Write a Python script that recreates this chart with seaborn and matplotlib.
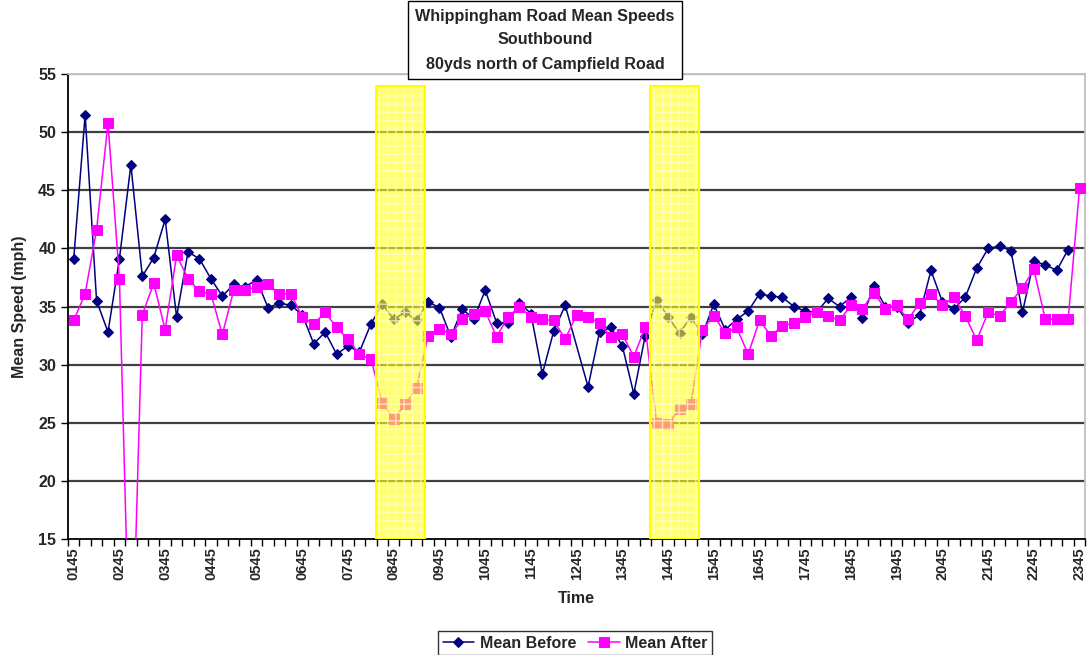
import numpy as np
import pandas as pd
import matplotlib
matplotlib.use("Agg")
import matplotlib.pyplot as plt
from matplotlib import font_manager
from matplotlib.ticker import FixedLocator
import seaborn as sns

# 15 minute slots from 01:45 to 23:45
times = pd.date_range("2000-01-01 01:45", "2000-01-01 23:45", freq="15min").strftime("%H%M").tolist()

mean_before = [
    39.1, 51.5, 35.5, 32.8, 39.1, 47.2, 37.6, 39.2, 42.5, 34.1,
    39.7, 39.1, 37.4, 35.9, 36.9, 36.7, 37.3, 34.9, 35.3, 35.1,
    34.3, 31.8, 32.8, 30.9, 31.6, 31.1, 33.5, 35.2, 33.9, 34.5,
    33.8, 35.4, 34.9, 32.4, 34.8, 33.9, 36.4, 33.6, 33.6, 35.3,
    34.4, 29.2, 32.9, 35.1, np.nan, 28.1, 32.8, 33.2, 31.6, 27.5,
    32.5, 35.6, 34.1, 32.7, 34.1, 32.6, 35.2, 33.0, 33.9, 34.6,
    36.1, 35.9, 35.8, 35.0, 34.6, 34.5, 35.7, 35.0, 35.8, 34.0,
    36.8, 35.0, 35.0, 33.6, 34.3, 38.1, 35.4, 34.8, 35.8, 38.3,
    40.0, 40.2, 39.8, 34.5, 38.9, 38.6, 38.1, 39.9, np.nan,
]
mean_after = [
    33.8, 36.1, 41.6, 50.8, 37.4, 0.0, 34.3, 37.0, 33.0, 39.4,
    37.4, 36.3, 36.1, 32.6, 36.4, 36.4, 36.7, 36.9, 36.1, 36.1,
    34.1, 33.5, 34.5, 33.2, 32.2, 30.9, 30.5, 26.7, 25.3, 26.6,
    28.0, 32.5, 33.1, 32.6, 33.9, 34.4, 34.6, 32.4, 34.1, 35.0,
    34.1, 33.9, 33.8, 32.2, 34.3, 34.1, 33.6, 32.4, 32.6, 30.7,
    33.2, 25.0, 24.9, 26.2, 26.6, 33.0, 34.2, 32.7, 33.2, 30.9,
    33.8, 32.5, 33.3, 33.6, 34.1, 34.5, 34.2, 33.8, 35.1, 34.8,
    36.2, 34.8, 35.1, 33.9, 35.3, 36.1, 35.1, 35.8, 34.2, 32.1,
    34.5, 34.2, 35.4, 36.6, 38.2, 33.9, 33.9, 33.9, 45.2,
]
# highlighted periods (first and last slot inside each box)
highlight_periods = [("0830", "0915"), ("1430", "1515")]

df = pd.DataFrame({"slot": np.arange(len(times)), "time": times,
                   "before": mean_before, "after": mean_after})

sns.set_style("white")
plt.rcParams["font.family"] = ["Liberation Sans", "DejaVu Sans"]

installed = {f.name for f in font_manager.fontManager.ttflist}
if "Liberation Sans Narrow" in installed:
    title_font, title_size = "Liberation Sans Narrow", 13.5
else:
    title_font, title_size = "Liberation Sans", 11.6

fig = plt.figure(figsize=(10.88, 6.55), dpi=100)
ax = fig.add_axes([0.0625, 0.177, 0.935, 0.710])

sns.lineplot(data=df, x="slot", y="before", ax=ax, color="#000080", linewidth=1.1,
             marker="D", markersize=5.5, markeredgecolor="#000080", label="Mean Before", zorder=3)
sns.lineplot(data=df, x="slot", y="after", ax=ax, color="#FF00FF", linewidth=1.1,
             marker="s", markersize=6.5, markeredgecolor="#FF00FF", label="Mean After", zorder=3)

for start, end in highlight_periods:
    x0 = times.index(start) - 0.55
    x1 = times.index(end) + 0.7
    ax.fill_between([x0, x1], 15, 54, facecolor=(1, 1, 0.1, 0.62), edgecolor="none", zorder=4)
    ax.fill_between([x0, x1], 15, 54, facecolor="none", edgecolor=(1, 1, 0.85, 0.7),
                    hatch="++", linewidth=0, zorder=4)
    ax.plot([x0, x1, x1, x0, x0], [15, 15, 54, 54, 15], color="#ffff00", lw=1.5, zorder=4)

ax.set_xlim(-0.5, len(times) - 0.5)
ax.set_ylim(15, 55)
ax.set_yticks(range(15, 56, 5))
for v in range(20, 55, 5):
    ax.axhline(v, color="#404040", lw=1.6, zorder=1)
ax.axhline(55, color="#a0a0a0", lw=1.6, zorder=1)

ax.set_xticks(df["slot"][::4])
ax.set_xticklabels(df["time"][::4], rotation=90, fontsize=10.5, fontweight="bold")
ax.xaxis.set_minor_locator(FixedLocator(np.arange(-0.5, len(times), 1)))
ax.tick_params(axis="x", which="major", length=0, pad=6)
ax.tick_params(axis="x", which="minor", length=5, width=1, color="black", direction="out", bottom=True)
ax.tick_params(axis="y", length=5, width=1, color="black", direction="out", left=True, labelsize=11.5)
for lab in ax.get_yticklabels():
    lab.set_fontweight("bold")

for side in ["left", "bottom"]:
    ax.spines[side].set_color("black")
    ax.spines[side].set_linewidth(1.3)
for side in ["top", "right"]:
    ax.spines[side].set_color("#c0c0c0")
    ax.spines[side].set_linewidth(1.3)

ax.set_xlabel("Time", fontsize=11.5, fontweight="bold", labelpad=8)
ax.set_ylabel("Mean Speed (mph)", fontsize=11.5, fontweight="bold", labelpad=8)

ax.get_legend().remove()
handles, labels = ax.get_legend_handles_labels()
leg = fig.legend(handles, labels, loc="center", bbox_to_anchor=(575 / 1088, 1 - 643 / 655),
                 ncol=2, frameon=True, fancybox=False, edgecolor="black", handlelength=2.0,
                 columnspacing=0.7, handletextpad=0.35, borderpad=0.3, borderaxespad=0.2,
                 prop={"size": 11.5, "weight": "bold"})
leg.get_frame().set_linewidth(1.0)

fig.text(545 / 1088, 1 - 40 / 655, "Whippingham Road Mean Speeds\nSouthbound\n80yds north of Campfield Road",
         ha="center", va="center", fontsize=title_size, fontweight="bold", family=title_font,
         linespacing=1.75,
         bbox=dict(boxstyle="square,pad=0.45", facecolor="white", edgecolor="black", linewidth=1.0))

fig.savefig("out.png", dpi=100)
